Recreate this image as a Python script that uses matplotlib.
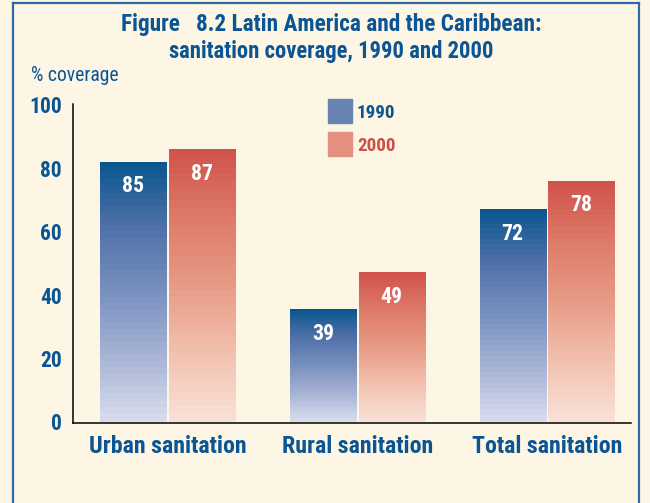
import matplotlib
matplotlib.use("Agg")
import matplotlib.pyplot as plt
import numpy as np
from matplotlib.colors import LinearSegmentedColormap
from matplotlib import font_manager as fm
from matplotlib.textpath import TextPath
from matplotlib.font_manager import FontProperties
from matplotlib.transforms import blended_transform_factory

# ---- data ----
categories = ["Urban sanitation", "Rural sanitation", "Total sanitation"]
series_names = ["1990", "2000"]
heights_1990 = [82, 35.5, 67]     # bar heights as drawn
heights_2000 = [86, 47, 76]
labels_1990 = ["85", "39", "72"]  # printed values
labels_2000 = ["87", "49", "78"]
yticks = [0, 20, 40, 60, 80, 100]

names = {f.name for f in fm.fontManager.ttflist}
FONT = "Roboto Condensed" if "Roboto Condensed" in names else "DejaVu Sans"
plt.rcParams["font.family"] = [FONT, "DejaVu Sans"]

DPI = 100
W, H = 650, 503
BG = "#fdf6e4"
BLUE_TXT = "#0b5594"
RED_TXT = "#cf4f47"


def fit_size(text, width_px, weight="bold"):
    fp = FontProperties(family=FONT, weight=weight, size=10)
    w = TextPath((0, 0), text, prop=fp).get_extents().width * DPI / 72.0
    return 10 * width_px / w


fig = plt.figure(figsize=(W / DPI, H / DPI), dpi=DPI, facecolor=BG)

# frame
fc = "#2c6ba6"
for xs, ys in [([13, 13], [503, 3]), ([13, 639], [3, 3]), ([639, 639], [3, 503])]:
    fig.add_artist(plt.Line2D([v / W for v in xs], [1 - v / H for v in ys], color=fc, lw=1.6,
                              transform=fig.transFigure))

ax_l, ax_r, ax_t, ax_b = 73, 631, 104, 423
ax = fig.add_axes([ax_l / W, 1 - ax_b / H, (ax_r - ax_l) / W, (ax_b - ax_t) / H])
ax.set_facecolor(BG)
ymin, ymax = -0.32, 100.3
xmin, xmax = -0.4987, 2.443

cm_blue = LinearSegmentedColormap.from_list("b", ["#d8dcee", "#a6b3d4", "#7890bf", "#4f70a8", "#09568f"])
cm_red = LinearSegmentedColormap.from_list("r", ["#f9e1d7", "#f2c0ae", "#e79a85", "#dd7a68", "#d1524a"])

bw = 0.348
off = 0.181
n = 160
grad = np.linspace(0, 1, n).reshape(-1, 1)
stripes = np.clip(grad - 0.025 * ((np.arange(n).reshape(-1, 1) % 4) == 0), 0, 1)
x = np.arange(len(categories))
for i in range(len(categories)):
    for h, lab, dx, cm in [(heights_1990[i], labels_1990[i], -off, cm_blue),
                           (heights_2000[i], labels_2000[i], off, cm_red)]:
        x0 = x[i] + dx - bw / 2
        ax.bar(x[i] + dx, h, width=bw, color="none", edgecolor="none")
        ax.imshow(stripes, cmap=cm, vmin=0, vmax=1, origin="lower",
                  extent=[x0, x0 + bw, 0, h], aspect="auto", interpolation="bilinear", zorder=2)
        ax.text(x[i] + dx, h - 7.7, lab, ha="center", va="center", color="white",
                fontsize=fit_size("85", 20), fontweight="bold", zorder=3)
ax.set_xlim(xmin, xmax)
ax.set_ylim(ymin, ymax)

for s in ["top", "right"]:
    ax.spines[s].set_visible(False)
for s in ["left", "bottom"]:
    ax.spines[s].set_color("black")
    ax.spines[s].set_linewidth(1.1)
ax.set_yticks(yticks)
ax.set_yticklabels([str(t) for t in yticks], fontsize=fit_size("100", 30), fontweight="bold",
                   color=BLUE_TXT)
ax.tick_params(axis="y", length=0, pad=8)
ax.set_xticks([])

# category labels
tr = blended_transform_factory(ax.transData, fig.transFigure)
cat_fs = fit_size("Urban sanitation", 155)
for i, c in enumerate(categories):
    ax.text(x[i], 1 - 453 / H, c, transform=tr, ha="center", va="baseline", fontsize=cat_fs,
            fontweight="bold", color=BLUE_TXT, clip_on=False)

# legend
leg_fs = fit_size("1990", 36)
for j, (nm, c, tc) in enumerate(zip(series_names, ["#6882b4", "#e48f7f"], [BLUE_TXT, RED_TXT])):
    y_top = 99 + j * 33
    fig.patches.append(plt.Rectangle((328 / W, 1 - (y_top + 24) / H), 24 / W, 24 / H, color=c,
                                     transform=fig.transFigure))
    fig.text(357 / W, 1 - (y_top + 19) / H, nm, ha="left", va="baseline", fontsize=leg_fs,
             fontweight="bold", color=tc)

t1 = "Figure   8.2 Latin America and the Caribbean:"
t2 = "sanitation coverage, 1990 and 2000"
fig.text(331.5 / W, 1 - 31 / H, t1, ha="center", va="baseline",
         fontsize=fit_size(t1, 418), fontweight="bold", color=BLUE_TXT)
fig.text(331.5 / W, 1 - 58 / H, t2, ha="center", va="baseline",
         fontsize=fit_size(t2, 323), fontweight="bold", color=BLUE_TXT)
fig.text(31 / W, 1 - 81 / H, "% coverage", ha="left", va="baseline",
         fontsize=fit_size("% coverage", 86, weight="normal"), color=BLUE_TXT)

fig.savefig("out.png", dpi=DPI, facecolor=BG)
